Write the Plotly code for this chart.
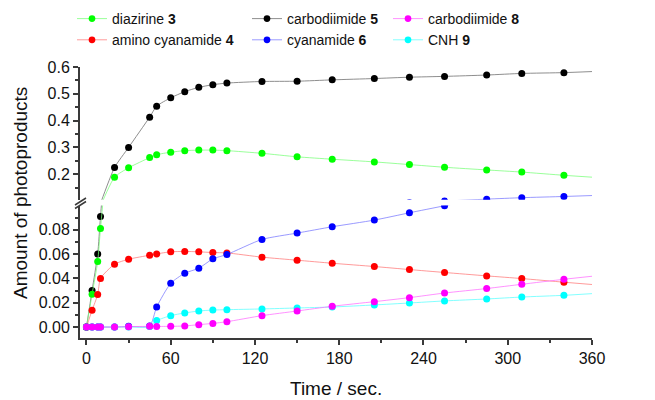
import plotly.graph_objects as go

# ---------------- data ----------------
times = [0, 4, 8, 10, 20, 30, 45, 50, 60, 70, 80, 90, 100, 125, 150, 175, 205, 230, 255, 285, 310, 340]
fit_end_time = 360

diazirine_3 = [0, 0.027, 0.054, 0.081, 0.189, 0.224, 0.262, 0.273, 0.282, 0.288, 0.290, 0.290, 0.288,
               0.278, 0.265, 0.256, 0.246, 0.236, 0.226, 0.216, 0.208, 0.196]
amino_cyanamide_4 = [0, 0.0138, 0.0267, 0.040, 0.0517, 0.0558, 0.0591, 0.0602, 0.0619, 0.0622, 0.0619,
                     0.0613, 0.061, 0.0575, 0.055, 0.0525, 0.0498, 0.0473, 0.0449, 0.0421, 0.0399, 0.0369]
carbodiimide_5 = [0, 0.030, 0.060, 0.091, 0.225, 0.300, 0.413, 0.454, 0.485, 0.508, 0.524, 0.534, 0.540,
                  0.546, 0.547, 0.552, 0.557, 0.562, 0.565, 0.570, 0.576, 0.579]
cyanamide_6 = [0, 0, 0, 0, 0, 0.0006, 0.0008, 0.0165, 0.036, 0.0443, 0.0484, 0.0561, 0.0597, 0.0721,
               0.0773, 0.0825, 0.088, 0.094, 0.0998, 0.107, 0.1125, 0.117]
carbodiimide_8 = [0, 0, 0, 0, 0, 0.0003, 0.0006, 0.0005, 0.0006, 0.0009, 0.002, 0.003, 0.0044, 0.0094,
                  0.0132, 0.0171, 0.0209, 0.0242, 0.028, 0.0317, 0.0352, 0.0393]
cnh_9 = [0, 0, 0, 0, 0, 0, 0.0005, 0.0053, 0.0094, 0.0116, 0.0132, 0.014, 0.0143, 0.0149, 0.0157,
         0.0165, 0.0182, 0.0198, 0.0215, 0.0231, 0.0247, 0.0261]

# fitted curves continue to t = 360 (value read at right edge)
fit_end = {"3": 0.189, "4": 0.035, "5": 0.583, "6": 0.1205, "8": 0.0418, "9": 0.0275}

x_ticks = [0, 60, 120, 180, 240, 300, 360]
y_low_ticks = [0, 0.02, 0.04, 0.06, 0.08]
y_up_ticks = [0.2, 0.3, 0.4, 0.5, 0.6]

# ---------------- styling ----------------
FONT = "Liberation Sans, Arial, sans-serif"
series = [
    # key, name, values, marker colour, line colour, legend, rank
    ("5", "carbodiimide <b>5</b>", carbodiimide_5, "#000000", "rgba(130,130,130,0.9)", "legend2", 1),
    ("3", "diazirine <b>3</b>", diazirine_3, "#00ff00", "rgba(120,255,120,0.75)", "legend", 1),
    ("4", "amino cyanamide <b>4</b>", amino_cyanamide_4, "#ff0000", "rgba(255,120,120,0.75)", "legend", 2),
    ("6", "cyanamide <b>6</b>", cyanamide_6, "#0000ff", "rgba(120,120,255,0.75)", "legend2", 2),
    ("9", "CNH <b>9</b>", cnh_9, "#00ffff", "rgba(100,255,255,0.8)", "legend3", 2),
    ("8", "carbodiimide <b>8</b>", carbodiimide_8, "#ff00ff", "rgba(255,110,255,0.75)", "legend3", 1),
]

fig = go.Figure()
for key, name, vals, mcol, lcol, leg, rank in series:
    xs = times + [fit_end_time]
    ys = vals + [fit_end[key]]
    sizes = [7] * len(vals) + [0]
    for yax, show in (("y", True), ("y2", False)):
        fig.add_trace(go.Scatter(
            x=xs, y=ys, yaxis=yax, xaxis="x",
            mode="lines+markers", name=name,
            line=dict(color=lcol, width=1, shape="spline", smoothing=0.6),
            marker=dict(color=mcol, size=sizes, opacity=1, line=dict(width=0)),
            showlegend=show, legend=leg, legendrank=rank,
        ))

# page geometry: the figure sits 8px in from the page corner (body margin)
OFF = 8
W, H = 655 - OFF, 400 - OFF
# plot area on the page: x 80..592, y 67..338
L, T = 80 - OFF, 67 - OFF
R, B = W - (592 - OFF), H - (338 - OFF)
PW, PH = W - L - R, H - T - B


def px(xp):
    return (xp - OFF - L) / PW


def py(yp):
    return (H - B - (yp - OFF)) / PH


axis_common = dict(showline=True, linecolor="#3a3a3a", linewidth=2, ticks="outside", ticklen=5,
                   tickwidth=1.5, tickcolor="#3a3a3a", showgrid=False, zeroline=False,
                   tickfont=dict(family=FONT, size=16, color="#111"))

leg_common = dict(xanchor="left", yanchor="top", bgcolor="rgba(0,0,0,0)",
                  font=dict(family=FONT, size=14, color="#111"), tracegroupgap=0)

fig.update_layout(
    width=W, height=H,
    margin=dict(l=L, r=R, t=T, b=B, autoexpand=False),
    paper_bgcolor="white", plot_bgcolor="white",
    font=dict(family=FONT, color="#111"),
    xaxis=dict(range=[-4.6, 360], tickvals=x_ticks, anchor="y",
               minor=dict(dtick=30, tick0=0, ticks="outside", ticklen=3, tickcolor="#3a3a3a"),
               **axis_common),
    yaxis=dict(range=[-0.009, 0.1], domain=[0, py(205.5)], tickvals=y_low_ticks, tickformat=".2f",
               anchor="x",
               minor=dict(tickvals=[0.01, 0.03, 0.05, 0.07, 0.09], ticks="outside", ticklen=3,
                          tickcolor="#3a3a3a"),
               **axis_common),
    yaxis2=dict(range=[0.105, 0.6], domain=[py(199.7), 1], tickvals=y_up_ticks, tickformat=".1f",
                anchor="x",
                minor=dict(tickvals=[0.15, 0.25, 0.35, 0.45, 0.55], ticks="outside", ticklen=3,
                           tickcolor="#3a3a3a"),
                **axis_common),
    legend=dict(x=px(72), y=py(3), **leg_common),
    legend2=dict(x=px(247), y=py(3), **leg_common),
    legend3=dict(x=px(388), y=py(3), **leg_common),
    annotations=[
        dict(text="Time / sec.", xref="paper", yref="paper", x=0.5, y=py(388), showarrow=False,
             xanchor="center", yanchor="middle", font=dict(family=FONT, size=19, color="#111")),
        dict(text="Amount of photoproducts", xref="paper", yref="paper", x=px(20), y=py(193),
             showarrow=False, textangle=-90, xanchor="center", yanchor="middle",
             font=dict(family=FONT, size=19, color="#111")),
    ],
    shapes=[
        dict(type="line", xref="paper", yref="paper", x0=px(75), y0=py(205), x1=px(86), y1=py(198),
             line=dict(color="#3a3a3a", width=1.5)),
        dict(type="line", xref="paper", yref="paper", x0=px(75), y0=py(208.5), x1=px(86), y1=py(201.5),
             line=dict(color="#3a3a3a", width=1.5)),
    ],
)

fig.write_html("out.html")
